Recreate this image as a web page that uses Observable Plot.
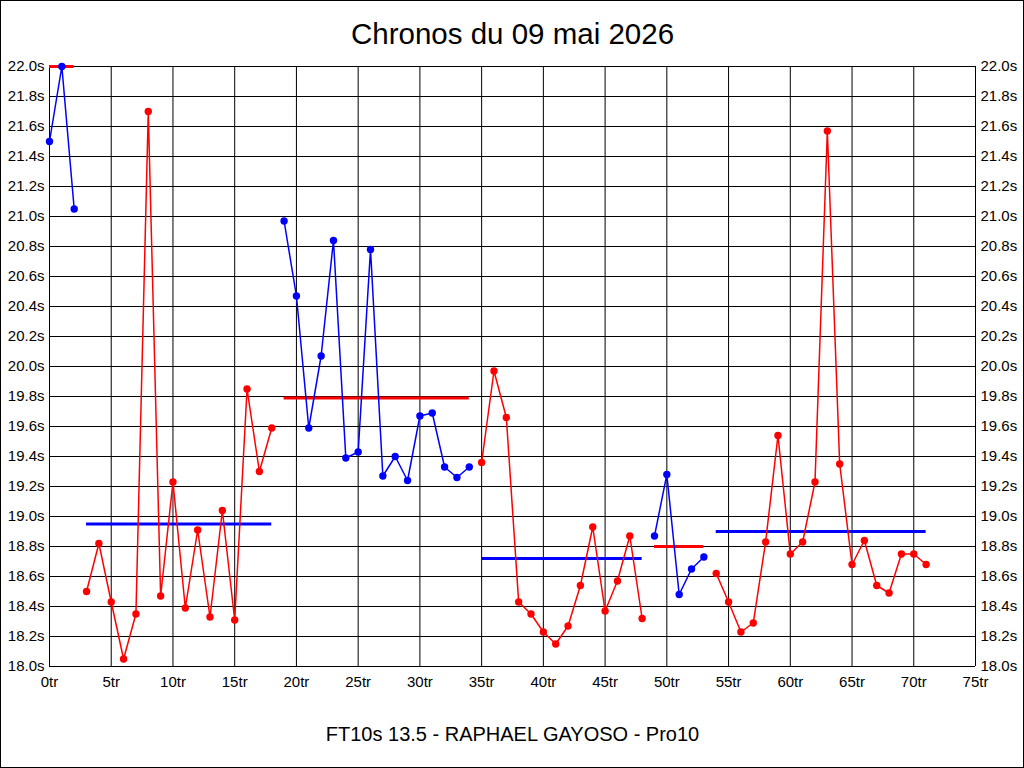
<!DOCTYPE html>
<html>
<head>
<meta charset="utf-8">
<script src="https://cdn.jsdelivr.net/npm/d3@7"></script>
<script src="https://cdn.jsdelivr.net/npm/@observablehq/plot@0.6"></script>
<style>
  html, body { margin: 0; padding: 0; background: #fff; }
  #wrap { position: relative; width: 1024px; height: 768px; overflow: hidden; }
  #wrap svg { position: absolute; left: 0; top: 0; }
  #border { position: absolute; left: 0; top: 0; width: 1024px; height: 768px; box-sizing: border-box; border: 1px solid #000; pointer-events: none; }
</style>
</head>
<body>
<div id="wrap"><div id="border"></div></div>
<script>
const title = "Chronos du 09 mai 2026";
const footer = "FT10s 13.5 - RAPHAEL GAYOSO - Pro10";

const lapTimes = [21.50, 22.00, 21.05, 18.50, 18.82, 18.43, 18.05, 18.35, 21.70, 18.47,
  19.23, 18.39, 18.91, 18.33, 19.04, 18.31, 19.85, 19.30, 19.59, 20.97,
  20.47, 19.59, 20.07, 20.84, 19.39, 19.43, 20.78, 19.27, 19.40, 19.24,
  19.67, 19.69, 19.33, 19.26, 19.33, 19.36, 19.97, 19.66, 18.43, 18.35,
  18.23, 18.15, 18.27, 18.54, 18.93, 18.37, 18.57, 18.87, 18.32, 18.87,
  19.28, 18.48, 18.65, 18.73, 18.62, 18.43, 18.23, 18.29, 18.83, 19.54,
  18.75, 18.83, 19.23, 21.57, 19.35, 18.68, 18.84, 18.54, 18.49, 18.75,
  18.75, 18.68];

const stintStart = [0, 3, 19, 35, 49, 54];
const stintEnd   = [2, 18, 34, 48, 53, 71];
const stintAvg   = [22.00, 18.95, 19.79, 18.72, 18.80, 18.90];
const stintColor = ["#0000ff", "#ff0000", "#0000ff", "#ff0000", "#0000ff", "#ff0000"];
const avgColor   = ["#ff0000", "#0000ff", "#ff0000", "#0000ff", "#ff0000", "#0000ff"];

const xTicks = [0, 5, 10, 15, 20, 25, 30, 35, 40, 45, 50, 55, 60, 65, 70, 75];
const yTicks = [18.0, 18.2, 18.4, 18.6, 18.8, 19.0, 19.2, 19.4, 19.6, 19.8, 20.0,
  20.2, 20.4, 20.6, 20.8, 21.0, 21.2, 21.4, 21.6, 21.8, 22.0];

const laps = lapTimes.map((t, i) => {
  const s = stintStart.findIndex((st, k) => i >= st && i <= stintEnd[k]);
  return {lap: i, time: t, stint: s, color: stintColor[s]};
});
const avgs = stintAvg.map((v, k) => ({x1: stintStart[k], x2: stintEnd[k], y: v, color: avgColor[k]}));

const font = "'Liberation Sans', Arial, sans-serif";

const chart = Plot.plot({
  width: 1024,
  height: 768,
  marginLeft: 49,
  marginRight: 49,
  marginTop: 66,
  marginBottom: 102,
  style: {fontFamily: font, background: "transparent", color: "#000", overflow: "visible"},
  x: {domain: [0, 75]},
  y: {domain: [18, 22]},
  color: {type: "identity"},
  marks: [
    Plot.gridX(xTicks, {stroke: "#000", strokeOpacity: 1, strokeWidth: 1}),
    Plot.gridY(yTicks, {stroke: "#000", strokeOpacity: 1, strokeWidth: 1}),
    Plot.axisY(yTicks, {anchor: "left", tickSize: 0, tickPadding: 5, fontSize: 15, tickFormat: d => d.toFixed(1) + "s", label: null}),
    Plot.axisY(yTicks, {anchor: "right", tickSize: 0, tickPadding: 5, fontSize: 15, tickFormat: d => d.toFixed(1) + "s", label: null}),
    Plot.axisX(xTicks, {anchor: "bottom", tickSize: 0, tickPadding: 10, fontSize: 15, tickFormat: d => d + "tr", label: null}),
    Plot.ruleY(avgs, {x1: "x1", x2: "x2", y: "y", stroke: "color", strokeWidth: 3}),
    Plot.line(laps, {x: "lap", y: "time", z: "stint", stroke: "color", strokeWidth: 1.5}),
    Plot.dot(laps, {x: "lap", y: "time", fill: "color", r: 3.7, stroke: null}),
    Plot.text([title], {frameAnchor: "top", dy: -32, fontSize: 29.5, lineAnchor: "middle", fill: "#000"}),
    Plot.text([footer], {frameAnchor: "bottom", dy: 68, fontSize: 20, lineAnchor: "middle", fill: "#000"})
  ]
});
document.getElementById("wrap").prepend(chart);
</script>
</body>
</html>
